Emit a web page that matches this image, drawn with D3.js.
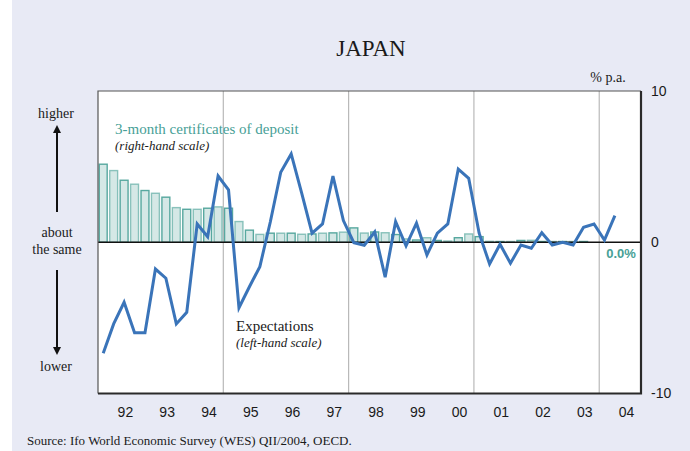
<!DOCTYPE html>
<html>
<head>
<meta charset="utf-8">
<script src="https://cdn.jsdelivr.net/npm/d3@7"></script>
<style>
  body { margin: 0; background: #ffffff; }
  svg text { fill: #1a1a1a; }
</style>
</head>
<body>
<div id="chart"></div>
<script>
// quarterly data, first quarter = 1992 Q1
var startYear = 1992;
var yearLabels = ["92", "93", "94", "95", "96", "97", "98", "99", "00", "01", "02", "03", "04"];
var gridYears = [1995, 1998, 2001, 2004];
var rightTicks = [-10, 0, 10];

// 3-month certificates of deposit, % p.a. (right-hand scale)
var cdRate = [
    5.16, 4.74, 4.10, 3.84, 3.42, 3.24, 2.98, 2.29,
    2.18, 2.18, 2.25, 2.34, 2.25, 1.37, 0.80, 0.52,
    0.60, 0.60, 0.60, 0.53, 0.55, 0.60, 0.62, 0.67,
    0.95, 0.61, 0.68, 0.63, 0.51, 0.22, 0.15, 0.30,
    0.12, 0.08, 0.30, 0.55, 0.37, 0.06, 0.05, 0.05,
    0.12, 0.13, 0.05, 0.05, 0.05, 0.05, 0.05, 0.0,
    0.0, 0.0
];

// WES expectations for short-term interest rates (left-hand scale)
var expectations = [
    -7.34, -5.40, -3.97, -5.98, -5.98, -1.77, -2.38, -5.40,
    -4.63, 1.21, 0.37, 4.38, 3.46, -4.33, -2.94, -1.61,
    1.34, 4.63, 5.84, 3.26, 0.60, 1.21, 4.38, 1.43,
    -0.03, -0.20, 0.68, -2.31, 1.36, -0.24, 1.26, -0.84,
    0.60, 1.21, 4.83, 4.23, 0.60, -1.44, -0.13, -1.39,
    -0.18, -0.40, 0.63, -0.18, 0.0, -0.18, 0.99, 1.21,
    0.15, 1.76
];

var W = 690, H = 451;
var plot = { left: 98, right: 641, top: 91, bottom: 393.5 };
var serif = "'Liberation Serif', 'Times New Roman', serif";
var sans = "'Liberation Sans', Arial, sans-serif";
var teal = "#47a096";
var blue = "#3a74b9";

var svg = d3.select("#chart").append("svg")
    .attr("width", W)
    .attr("height", H);

svg.append("rect")
    .attr("x", 12).attr("y", 0)
    .attr("width", W - 12).attr("height", H)
    .attr("fill", "#e8eaf5");

var xScale = d3.scaleLinear().domain([startYear, 2005]).range([plot.left, plot.right]);
var yRight = d3.scaleLinear().domain([-10, 10]).range([plot.bottom, plot.top]);
var yLeft = d3.scaleLinear().domain([-10, 10]).range([plot.bottom, plot.top]);

function qStart(i) { return startYear + i / 4; }
function qMid(i) { return startYear + (i + 0.5) / 4; }

// plot area
svg.append("rect")
    .attr("x", plot.left).attr("y", plot.top)
    .attr("width", plot.right - plot.left).attr("height", plot.bottom - plot.top)
    .attr("fill", "#ffffff");

svg.append("g").attr("class", "grid")
    .selectAll("line")
    .data(gridYears)
    .enter().append("line")
    .attr("x1", function(d) { return xScale(d); })
    .attr("x2", function(d) { return xScale(d); })
    .attr("y1", plot.top).attr("y2", plot.bottom)
    .attr("stroke", "#b9b9b9")
    .attr("stroke-width", 1.2);

// bars
var slot = xScale(startYear + 0.25) - xScale(startYear);
svg.append("g").attr("class", "bars")
    .selectAll("rect")
    .data(cdRate)
    .enter().append("rect")
    .attr("x", function(d, i) { return xScale(qStart(i)) + slot * 0.12; })
    .attr("width", slot * 0.76)
    .attr("y", function(d) { return yRight(d); })
    .attr("height", function(d) { return yRight(0) - yRight(d); })
    .attr("fill", "#d5e8e6")
    .attr("stroke", teal)
    .attr("stroke-width", 1.4)
    .attr("stroke-opacity", function(d, i) { return i % 2 ? 0.6 : 0.9; });

// zero line
svg.append("line")
    .attr("x1", plot.left).attr("x2", plot.right)
    .attr("y1", yRight(0)).attr("y2", yRight(0))
    .attr("stroke", "#111").attr("stroke-width", 1.6);

// expectations line
var line = d3.line()
    .x(function(d, i) { return xScale(qMid(i)); })
    .y(function(d) { return yLeft(d); });

svg.append("path")
    .datum(expectations)
    .attr("d", line)
    .attr("fill", "none")
    .attr("stroke", blue)
    .attr("stroke-width", 3)
    .attr("stroke-linejoin", "miter");

// frame
svg.append("path")
    .attr("d", "M" + plot.left + "," + plot.bottom + "V" + plot.top + "H" + plot.right)
    .attr("fill", "none").attr("stroke", "#555").attr("stroke-width", 1.2);
svg.append("path")
    .attr("d", "M" + plot.left + "," + plot.bottom + "H" + plot.right + "V" + plot.top)
    .attr("fill", "none").attr("stroke", "#2a2a2a").attr("stroke-width", 2.2);

// right axis
var rAxis = svg.append("g")
    .attr("transform", "translate(" + (plot.right + 8) + ",0)")
    .call(d3.axisRight(yRight).tickValues(rightTicks).tickSize(0).tickPadding(2)
        .tickFormat(function(d) { return String(d); }));
rAxis.select(".domain").remove();
rAxis.selectAll("text")
    .style("font-family", sans).style("font-size", "14px")
    .attr("fill", "#1a1a1a");

// x axis labels
var xAxis = svg.append("g")
    .attr("transform", "translate(0," + plot.bottom + ")")
    .call(d3.axisBottom(xScale)
        .tickValues(yearLabels.map(function(d, i) { return startYear + i + 0.5; }))
        .tickFormat(function(d, i) { return yearLabels[i]; })
        .tickSize(0).tickPadding(14));
xAxis.select(".domain").remove();
xAxis.selectAll("text")
    .attr("dx", 6)
    .style("font-family", sans).style("font-size", "14px")
    .attr("fill", "#1a1a1a");

// texts
function label(x, y, txt, size, opts) {
    opts = opts || {};
    return svg.append("text")
        .attr("x", x).attr("y", y)
        .attr("text-anchor", opts.anchor || "start")
        .style("font-family", opts.family || serif)
        .style("font-size", size + "px")
        .style("font-style", opts.italic ? "italic" : "normal")
        .style("font-weight", opts.bold ? "bold" : "normal")
        .style("fill", opts.color || "#1a1a1a")
        .text(txt);
}

label(371, 56, "JAPAN", 23, { anchor: "middle" });
label(608, 82, "% p.a.", 14, { anchor: "middle" });
label(115, 134, "3-month certificates of deposit", 15, { color: teal });
label(115, 150, "(right-hand scale)", 13, { italic: true });
label(236, 331, "Expectations", 15);
label(236, 347, "(left-hand scale)", 13, { italic: true });
label(621, 258, "0.0%", 13, { anchor: "middle", family: sans, bold: true, color: teal });

label(56, 118, "higher", 14, { anchor: "middle" });
label(57, 237, "about", 14, { anchor: "middle" });
label(57, 254, "the same", 14, { anchor: "middle" });
label(56, 371, "lower", 14, { anchor: "middle" });
label(27, 445, "Source: Ifo World Economic Survey (WES) QII/2004, OECD.", 13);

// arrows
var defs = svg.append("defs");
defs.append("marker")
    .attr("id", "head")
    .attr("viewBox", "0 0 10 10")
    .attr("refX", 5).attr("refY", 5)
    .attr("markerWidth", 4).attr("markerHeight", 4)
    .attr("orient", "auto")
    .append("path")
    .attr("d", "M0,0L10,5L0,10z")
    .attr("fill", "#111");

svg.append("line")
    .attr("x1", 57).attr("y1", 212).attr("x2", 57).attr("y2", 129)
    .attr("stroke", "#111").attr("stroke-width", 2)
    .attr("marker-end", "url(#head)");
svg.append("line")
    .attr("x1", 57).attr("y1", 270).attr("x2", 57).attr("y2", 351)
    .attr("stroke", "#111").attr("stroke-width", 2)
    .attr("marker-end", "url(#head)");
</script>
</body>
</html>
